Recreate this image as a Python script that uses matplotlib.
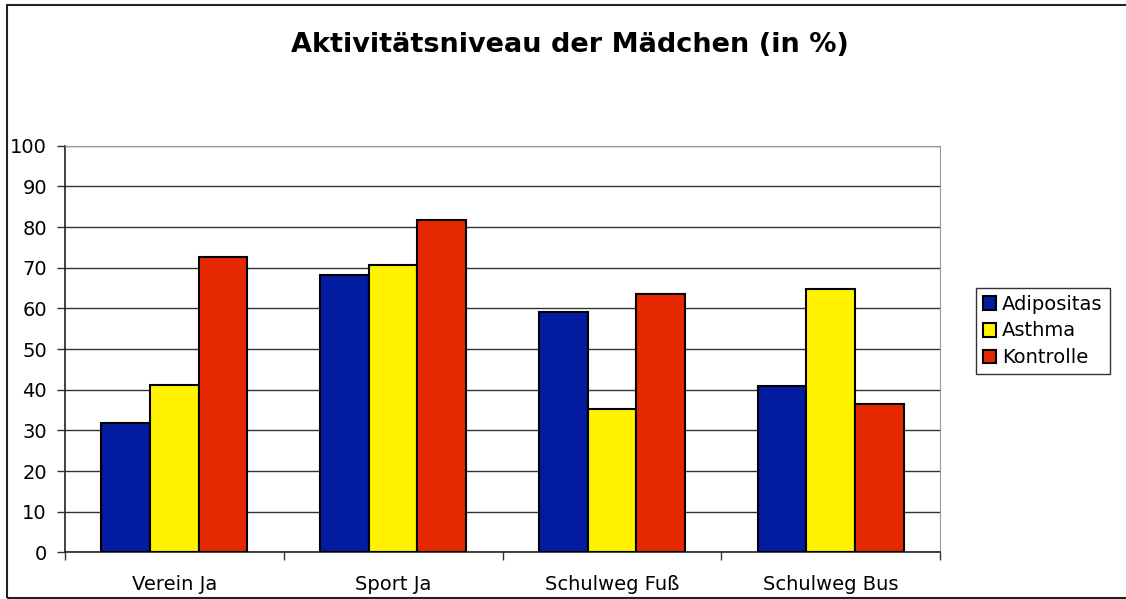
import matplotlib.pyplot as plt
import numpy as np
from matplotlib.patches import Rectangle

# data
categories = ["Verein Ja", "Sport Ja", "Schulweg Fuß", "Schulweg Bus"]
series_names = ["Adipositas", "Asthma", "Kontrolle"]
adipositas = [31.8, 68.2, 59.1, 40.9]
asthma = [41.1, 70.7, 35.3, 64.7]
kontrolle = [72.7, 81.8, 63.5, 36.4]
colors = ["#031B9F", "#FFF300", "#E62800"]
yticks = list(range(0, 101, 10))

fig = plt.figure(figsize=(11.26, 5.99), dpi=100)
ax = fig.add_axes([65 / 1126, 1 - 552.4 / 599, 875 / 1126, 406.7 / 599])

# outer chart border
fig.patches.append(Rectangle((7 / 1126, 1 / 599), 1.1, 593 / 599,
                             transform=fig.transFigure, fill=False,
                             edgecolor="#222222", linewidth=1.5))

x = np.arange(len(categories))
bw = 1 / 4.5
for i, (vals, name) in enumerate(zip([adipositas, asthma, kontrolle], series_names)):
    ax.bar(x + (i - 1) * bw, vals, width=bw, color=colors[i], edgecolor="black",
           linewidth=1.5, label=name, zorder=3)

ax.set_xlim(-0.5, len(categories) - 0.5)
ax.set_ylim(0, 100)
ax.set_yticks(yticks)
ax.set_xticks(x)
ax.set_xticklabels(categories)
ax.set_xticks(np.arange(-0.5, len(categories)), minor=True)
ax.tick_params(axis="x", which="major", length=0, pad=16, labelsize=14)
ax.tick_params(axis="x", which="minor", length=6, width=1, color="#333333")
ax.tick_params(axis="y", length=6, width=1, color="#333333", labelsize=14, pad=7)
ax.yaxis.grid(True, color="#333333", linewidth=1, zorder=0)
ax.set_axisbelow(True)
for side in ["top", "right"]:
    ax.spines[side].set_color("#999999")
for side in ["left", "bottom"]:
    ax.spines[side].set_color("#222222")
    ax.spines[side].set_linewidth(1.2)

fig.text(570 / 1126, 1 - 45 / 599, "Aktivitätsniveau der Mädchen (in %)",
         ha="center", va="center", fontsize=19.5, fontweight="bold")

leg = fig.legend(loc="center left", bbox_to_anchor=(976 / 1126, 1 - 331 / 599),
                 frameon=True, fancybox=False, edgecolor="black", fontsize=14,
                 handlelength=0.7, handleheight=0.7, handletextpad=0.3,
                 borderpad=0.35, labelspacing=0.4, borderaxespad=0)
leg.get_frame().set_linewidth(1)

plt.savefig("out.png", dpi=100)
